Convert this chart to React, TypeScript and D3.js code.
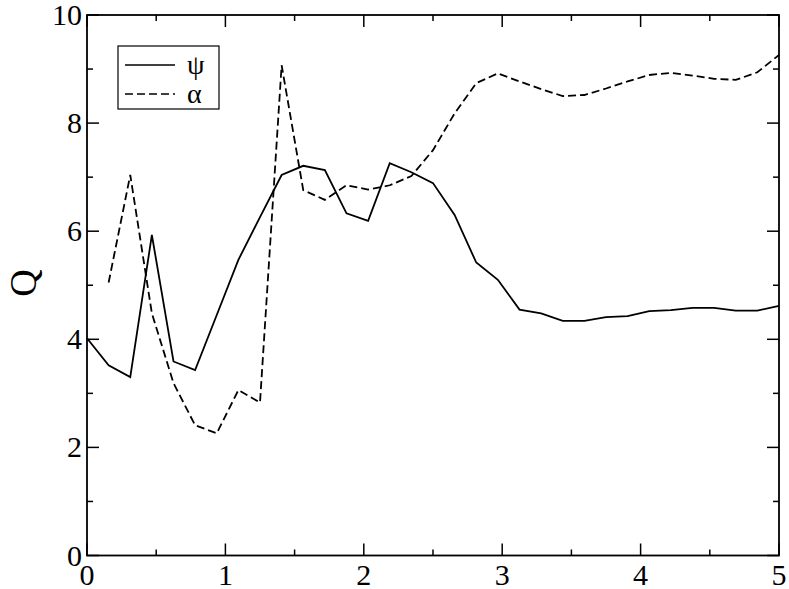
import React, { useRef, useEffect } from 'react';
import * as d3 from 'd3';

// step between samples is 5/32
const step = 5 / 32;
const psiValues = [
  4.02, 3.52, 3.30, 5.93, 3.59, 3.43, 4.45, 5.47, 6.26, 7.04, 7.21, 7.13, 6.33, 6.19, 7.26, 7.09, 6.89,
  6.30, 5.42, 5.10, 4.55, 4.48, 4.34, 4.34, 4.41, 4.43, 4.52, 4.54, 4.58, 4.58, 4.53, 4.53, 4.62,
];
// alpha starts at the second sample
const alphaValues = [
  5.05, 7.04, 4.48, 3.19, 2.41, 2.26, 3.06, 2.83, 9.07, 6.76, 6.58, 6.85, 6.77, 6.85, 7.02, 7.50,
  8.18, 8.74, 8.92, 8.77, 8.63, 8.50, 8.52, 8.64, 8.77, 8.89, 8.93, 8.88, 8.82, 8.80, 8.94, 9.26,
];
const xTicks = [0, 1, 2, 3, 4, 5];
const yTicks = [0, 2, 4, 6, 8, 10];
const legendLabels = ['\u03C8', '\u03B1'];

const W = 789;
const H = 589;
const margin = { left: 87, right: 10, top: 15, bottom: 33.5 };

const App = () => {
  const svgRef = useRef<SVGSVGElement>(null);

  useEffect(() => {
    const svg = d3.select(svgRef.current);
    svg.selectAll('*').remove();

    const x = d3.scaleLinear().domain([0, 5]).range([margin.left, W - margin.right]);
    const y = d3.scaleLinear().domain([0, 10]).range([H - margin.bottom, margin.top]);
    const font = '"Times New Roman", "Liberation Serif", Times, serif';

    const psi = psiValues.map((v, i) => [i * step, v] as [number, number]);
    const alpha = alphaValues.map((v, i) => [(i + 1) * step, v] as [number, number]);

    const line = d3.line<[number, number]>().x(d => x(d[0])).y(d => y(d[1]));

    svg.append('path')
      .attr('d', line(psi))
      .attr('fill', 'none')
      .attr('stroke', '#000')
      .attr('stroke-width', 1.8);

    svg.append('path')
      .attr('d', line(alpha))
      .attr('fill', 'none')
      .attr('stroke', '#000')
      .attr('stroke-width', 1.8)
      .attr('stroke-dasharray', '8,4');

    // frame
    const x0 = x(0), x1 = x(5), y0 = y(0), y1 = y(10);
    svg.append('rect')
      .attr('x', x0).attr('y', y1)
      .attr('width', x1 - x0).attr('height', y0 - y1)
      .attr('fill', 'none')
      .attr('stroke', '#000')
      .attr('stroke-width', 1.8);

    const ticks = svg.append('g').attr('stroke', '#000').attr('stroke-width', 1.5);
    const major = 12;
    const minor = 6;
    d3.range(0, 5.01, 0.5).forEach(v => {
      const len = Number.isInteger(v) ? major : minor;
      ticks.append('line').attr('x1', x(v)).attr('x2', x(v)).attr('y1', y0).attr('y2', y0 - len);
      ticks.append('line').attr('x1', x(v)).attr('x2', x(v)).attr('y1', y1).attr('y2', y1 + len);
    });
    d3.range(0, 10.01, 1).forEach(v => {
      const len = v % 2 === 0 ? major : minor;
      ticks.append('line').attr('y1', y(v)).attr('y2', y(v)).attr('x1', x0).attr('x2', x0 + len);
      ticks.append('line').attr('y1', y(v)).attr('y2', y(v)).attr('x1', x1).attr('x2', x1 - len);
    });

    svg.append('g').selectAll('text')
      .data(xTicks)
      .enter()
      .append('text')
      .attr('x', d => x(d))
      .attr('y', 585)
      .attr('text-anchor', 'middle')
      .style('font-family', font)
      .style('font-size', '30px')
      .text(d => d);

    svg.append('g').selectAll('text')
      .data(yTicks)
      .enter()
      .append('text')
      .attr('x', 82)
      .attr('y', d => y(d) + 10)
      .attr('text-anchor', 'end')
      .style('font-family', font)
      .style('font-size', '30px')
      .text(d => d);

    svg.append('text')
      .attr('transform', `translate(36, 283) rotate(-90)`)
      .attr('text-anchor', 'middle')
      .style('font-family', font)
      .style('font-size', '38px')
      .text('Q');

    // legend
    const legend = svg.append('g');
    legend.append('rect')
      .attr('x', 118).attr('y', 46).attr('width', 101).attr('height', 63)
      .attr('fill', '#fff').attr('stroke', '#000').attr('stroke-width', 1.2);
    legendLabels.forEach((lab, i) => {
      const ly = 65 + i * 29;
      legend.append('line')
        .attr('x1', 125).attr('x2', 175).attr('y1', ly).attr('y2', ly)
        .attr('stroke', '#000').attr('stroke-width', 1.6)
        .attr('stroke-dasharray', i === 1 ? '8,4' : null);
      legend.append('text')
        .attr('x', 187).attr('y', ly + 9)
        .style('font-family', font)
        .style('font-size', '28px')
        .text(lab);
    });
  }, []);

  return (
    <svg ref={svgRef} width={W} height={H} style={{ position: 'absolute', left: 0, top: 0, background: '#fff' }} />
  );
};

export default App;
